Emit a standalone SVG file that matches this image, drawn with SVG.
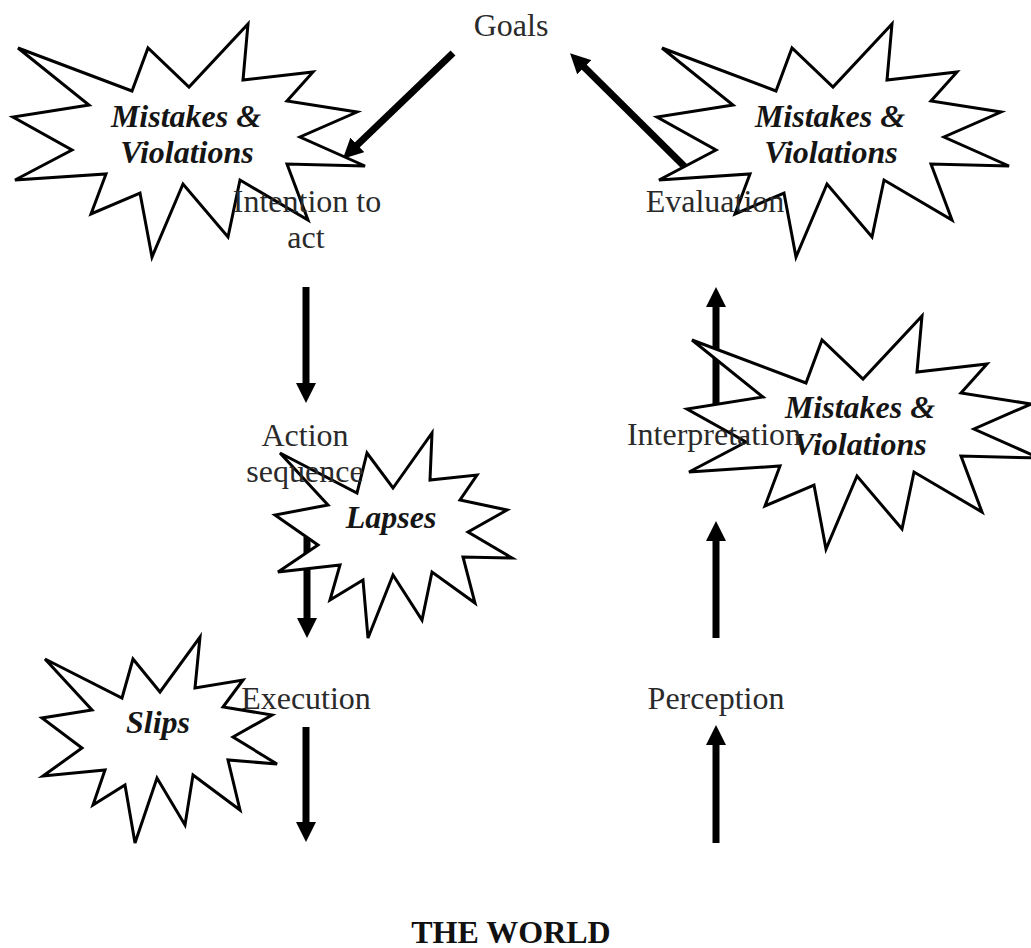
<svg xmlns="http://www.w3.org/2000/svg" width="1031" height="948" viewBox="0 0 1031 948">
  <style>
    .label { font-family: "Liberation Serif", "Times New Roman", serif; font-size: 32px; fill: #2a2a2a; text-anchor: middle; }
    .world { font-weight: bold; fill: #111; }
    .burst polygon { fill: #fff; stroke: #000; stroke-width: 3; stroke-linejoin: miter; }
    .burst text { font-family: "Liberation Serif", "Times New Roman", serif; font-size: 32px; font-style: italic; font-weight: bold; fill: #151515; text-anchor: middle; }
    .conn line { stroke: #000; stroke-width: 7; marker-end: url(#head); }
  </style>
  <defs>
    <marker id="head" markerUnits="userSpaceOnUse" markerWidth="20" markerHeight="20" refX="6" refY="10" orient="auto">
      <path d="M0,0 L20,10 L0,20 Z" fill="#000"/>
    </marker>
  </defs>
  <rect width="1031" height="948" fill="#fff"/>

  <!-- arrows of the action / evaluation cycle -->
  <g id="connectors" class="conn">
    <line x1="453" y1="53" x2="353" y2="149"/>
    <line x1="685" y1="167" x2="580" y2="63"/>
    <line x1="306" y1="287" x2="306" y2="389"/>
    <line x1="307" y1="537" x2="307" y2="624"/>
    <line x1="306" y1="727" x2="306" y2="828"/>
    <line x1="716" y1="843" x2="716" y2="739"/>
    <line x1="716" y1="638" x2="716" y2="535"/>
    <line x1="716" y1="410" x2="716" y2="301"/>
  </g>

  <!-- error-type explosions -->
  <g id="burst-intention" class="burst">
    <polygon points="18,48 132,91 148,48 189,87 248,24 243,80 313,72 287,101 357,112 300,137 365,166 287,164 308,220 240,180 228,237 183,184 152,257 140,193 91,214 106,174 15,180 72,150 13,117 89,105"/>
    <text x="186" y="127">Mistakes &amp;</text>
    <text x="187" y="163">Violations</text>
  </g>
  <g id="burst-evaluation" class="burst">
    <polygon points="662,48 776,91 792,48 833,87 892,24 887,80 957,72 931,101 1001,112 944,137 1009,166 931,164 952,220 884,180 872,237 827,184 796,257 784,193 735,214 750,174 659,180 716,150 657,117 733,105"/>
    <text x="830" y="127">Mistakes &amp;</text>
    <text x="831" y="163">Violations</text>
  </g>
  <g id="burst-interpretation" class="burst">
    <polygon points="692,340 806,383 822,340 863,379 922,316 917,372 987,364 961,393 1031,404 974,429 1039,458 961,456 982,512 914,472 902,529 857,476 826,549 814,485 765,506 780,466 689,472 746,442 687,409 763,397"/>
    <text x="860" y="418">Mistakes &amp;</text>
    <text x="860" y="455">Violations</text>
  </g>
  <g id="burst-lapses" class="burst">
    <polygon points="280,453 357,493 367,453 393,488 432,433 430,480 477,475 460,500 507,510 468,532 512,558 463,557 475,603 432,572 422,620 393,575 368,638 363,580 330,600 340,565 278,572 318,545 275,515 328,505"/>
    <text x="391" y="528">Lapses</text>
  </g>
  <g id="burst-slips" class="burst">
    <polygon points="45,659 122,698 133,659 160,692 200,637 195,688 243,680 223,707 272,715 233,737 277,764 228,760 240,810 193,775 185,825 157,778 135,843 125,785 93,805 105,770 43,776 82,748 42,718 92,710"/>
    <text x="158" y="733">Slips</text>
  </g>

  <!-- stages -->
  <g id="goals"><text class="label" x="511" y="36">Goals</text></g>
  <g id="intention">
    <text class="label" x="307" y="212">Intention to</text>
    <text class="label" x="306" y="248">act</text>
  </g>
  <g id="evaluation"><text class="label" x="715" y="212">Evaluation</text></g>
  <g id="action-sequence">
    <text class="label" x="305" y="446">Action</text>
    <text class="label" x="305" y="482">sequence</text>
  </g>
  <g id="interpretation"><text class="label" x="714" y="445">Interpretation</text></g>
  <g id="execution"><text class="label" x="306" y="709">Execution</text></g>
  <g id="perception"><text class="label" x="716" y="709">Perception</text></g>
  <g id="world"><text class="label world" x="511" y="943">THE WORLD</text></g>
</svg>
